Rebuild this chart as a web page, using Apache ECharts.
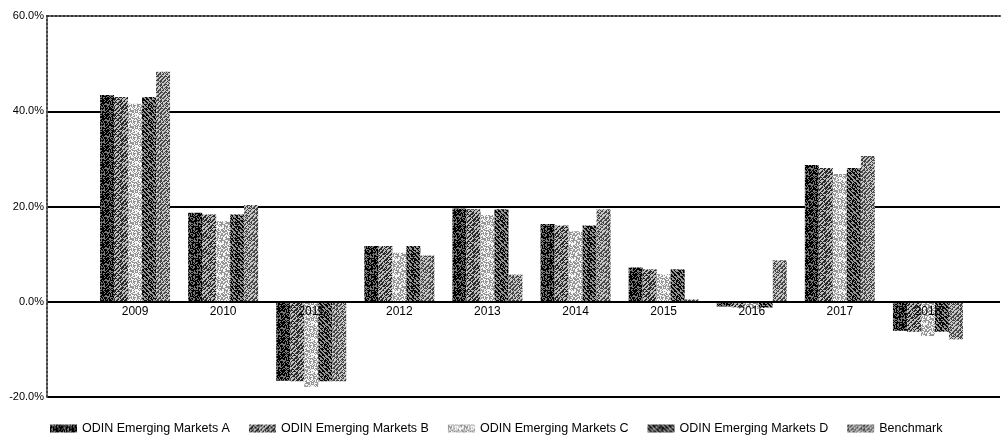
<!DOCTYPE html>
<html>
<head>
<meta charset="utf-8">
<script src="https://cdn.jsdelivr.net/npm/echarts@6/dist/echarts.min.js"></script>
<style>
html,body{margin:0;padding:0;background:#fff;}
#chart{width:1002px;height:443px;}
</style>
</head>
<body>
<div id="chart"></div>
<script>
var categories = ['2009','2010','2011','2012','2013','2014','2015','2016','2017','2018'];
var seriesNames = ['ODIN Emerging Markets A','ODIN Emerging Markets B','ODIN Emerging Markets C','ODIN Emerging Markets D','Benchmark'];
var marketsA  = [43.4, 18.7, -16.6, 11.7, 19.6, 16.3, 7.2, -1.0, 28.7, -6.1];
var marketsB  = [43.0, 18.3, -16.7, 11.7, 19.4, 16.0, 6.8, -1.2, 28.1, -6.3];
var marketsC  = [41.6, 16.9, -17.9, 10.3, 18.2, 14.8, 5.8, -1.5, 26.8, -7.2];
var marketsD  = [43.0, 18.3, -16.7, 11.7, 19.4, 16.0, 6.8, -1.2, 28.1, -6.3];
var benchmark = [48.3, 20.3, -16.7, 9.7, 5.7, 19.4, 0.5, 8.7, 30.6, -7.9];
var yTicks = [-20, 0, 20, 40, 60];

var Y_MIN = yTicks[0], Y_MAX = yTicks[yTicks.length - 1];
var GRID_TOP = 16, GRID_BOTTOM = 46, CHART_H = 443;
var plotH = CHART_H - GRID_TOP - GRID_BOTTOM;
// distance from bottom edge of plot to the zero line, so the category axis sits on 0
var zeroOffset = plotH * (0 - Y_MIN) / (Y_MAX - Y_MIN);

function hash(x, y, s) {
  var v = Math.sin(x * 12.9898 + y * 78.233 + s * 37.719) * 43758.5453;
  return v - Math.floor(v);
}
function makePattern(dark, kind, seed, lo, hi) {
  var n = 16;
  var c = document.createElement('canvas');
  c.width = n; c.height = n;
  var ctx = c.getContext('2d');
  var img = ctx.createImageData(n, n);
  for (var y = 0; y < n; y++) {
    for (var x = 0; x < n; x++) {
      var t = hash(x, y, seed);
      if (kind === 'diag') t = 0.5 * t + 0.5 * (((x + y) % 4) / 3);
      if (kind === 'anti') t = 0.5 * t + 0.5 * (((x - y + 64) % 4) / 3);
      var v = t < dark ? lo : hi;
      var i = (y * n + x) * 4;
      img.data[i] = v; img.data[i + 1] = v; img.data[i + 2] = v; img.data[i + 3] = 255;
    }
  }
  ctx.putImageData(img, 0, 0);
  return { image: c, repeat: 'repeat' };
}
var patterns = [
  makePattern(0.6, 'dot', 1, 0, 120),
  makePattern(0.5, 'diag', 2, 40, 190),
  makePattern(0.5, 'dot', 3, 150, 245),
  makePattern(0.55, 'anti', 4, 10, 150),
  makePattern(0.5, 'diag', 5, 70, 200)
];
var allData = [marketsA, marketsB, marketsC, marketsD, benchmark];

var chart = echarts.init(document.getElementById('chart'), null, { renderer: 'canvas' });
var option = {
  animation: false,
  backgroundColor: '#fff',
  grid: [
    { left: 47, right: 2, top: GRID_TOP, bottom: GRID_BOTTOM },
    { left: 91, right: 30, top: GRID_TOP, bottom: GRID_BOTTOM }
  ],
  legend: {
    bottom: 3,
    left: 45,
    itemWidth: 27,
    itemHeight: 8,
    itemGap: 19,
    icon: 'rect',
    textStyle: { fontFamily: 'Liberation Sans, Arial, sans-serif', fontSize: 12.5, color: '#000' },
    data: seriesNames
  },
  xAxis: [
    { gridIndex: 0, type: 'value', position: 'top', min: 0, max: 1,
      axisLine: { show: true, onZero: false, lineStyle: { color: '#333', width: 2, type: 'dotted' } },
      axisTick: { show: false }, axisLabel: { show: false }, splitLine: { show: false } },
    { gridIndex: 1, type: 'category', data: categories, z: 10, position: 'bottom', offset: -zeroOffset,
      axisLine: { show: true, onZero: false, lineStyle: { color: '#000', width: 2 } },
      axisTick: { show: false },
      axisLabel: { color: '#000', fontSize: 12, fontFamily: 'Liberation Sans, Arial, sans-serif', margin: 4 },
      splitLine: { show: false } }
  ],
  yAxis: [
    { gridIndex: 0, type: 'value', min: Y_MIN, max: Y_MAX, interval: 20,
      axisLine: { show: true, lineStyle: { color: '#444', width: 2, type: 'dotted' } },
      axisTick: { show: false },
      axisLabel: { color: '#000', fontSize: 11, fontFamily: 'Liberation Sans, Arial, sans-serif', margin: 3,
        formatter: function (v) { return v.toFixed(1) + '%'; } },
      splitLine: { show: true, lineStyle: { color: ['#000', '#000', '#000', '#000', 'rgba(0,0,0,0)'], width: 2 } } },
    { gridIndex: 1, type: 'value', min: Y_MIN, max: Y_MAX, interval: 20,
      axisLine: { show: false }, axisTick: { show: false }, axisLabel: { show: false },
      splitLine: { show: false } }
  ],
  series: allData.map(function (d, i) {
    return {
      name: seriesNames[i],
      type: 'bar',
      xAxisIndex: 1,
      yAxisIndex: 1,
      data: d,
      barWidth: 14,
      barGap: '0%',
      itemStyle: { color: patterns[i] }
    };
  })
};
chart.setOption(option);
</script>
</body>
</html>
